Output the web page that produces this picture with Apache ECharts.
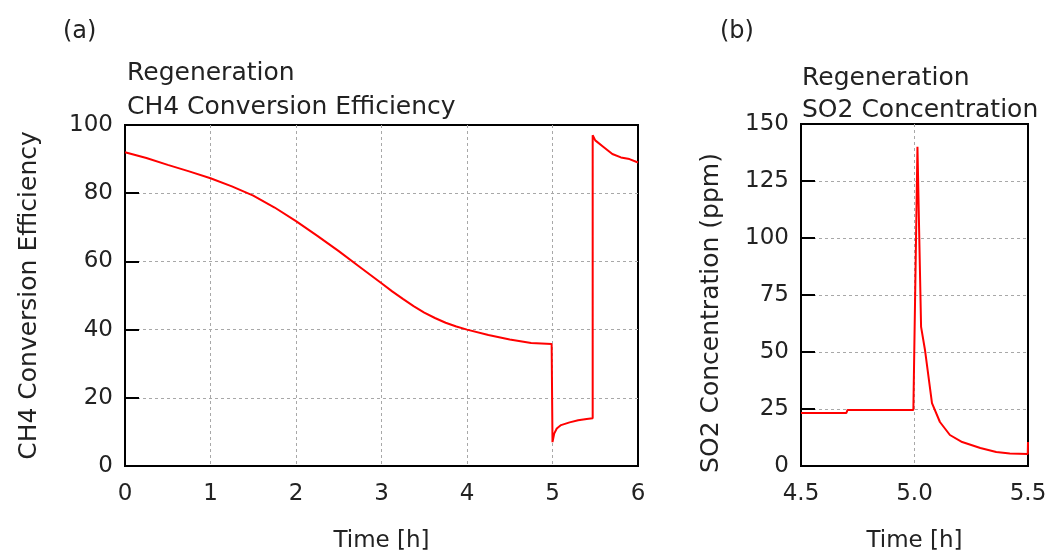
<!DOCTYPE html>
<html>
<head>
<meta charset="utf-8">
<script src="https://cdn.jsdelivr.net/npm/echarts@6/dist/echarts.min.js"></script>
<style>html,body{margin:0;padding:0;background:#fff}#c{width:1047px;height:552px}</style>
</head>
<body>
<div id="c"></div>
<script>
// Panel (a): CH4 conversion efficiency
const ch4Time = [0, 0.25, 0.5, 0.75, 1.0, 1.25, 1.5, 1.75, 2.0, 2.25, 2.5, 2.75, 3.0, 3.125, 3.25, 3.375, 3.5, 3.625, 3.75, 3.875, 4.0, 4.25, 4.5, 4.75, 4.99, 5.0, 5.02, 5.05, 5.1, 5.2, 5.3, 5.4, 5.47, 5.47, 5.5, 5.6, 5.7, 5.8, 5.9, 6.0];
const ch4Eff  = [92, 90.3, 88.3, 86.4, 84.4, 82, 79.3, 75.8, 71.8, 67.5, 63, 58.3, 53.6, 51.2, 49.0, 46.9, 45.0, 43.4, 42.0, 40.9, 40, 38.4, 37.1, 36.1, 35.8, 7, 9.5, 11, 12, 12.8, 13.4, 13.8, 14, 97, 95.5, 93.5, 91.5, 90.5, 90, 89];
// Panel (b): SO2 concentration
const so2Time = [4.5, 4.7, 4.705, 4.995, 5.013, 5.029, 5.046, 5.077, 5.112, 5.156, 5.21, 5.29, 5.36, 5.42, 5.499, 5.5];
const so2Conc = [23.3, 23.3, 24.6, 24.6, 140, 61, 51, 27.6, 19.3, 13.6, 10.5, 7.9, 6.1, 5.5, 5.3, 10.5];
const ch4XTicks = [0, 6, 1];
const ch4YTicks = [0, 100, 20];
const so2XTicks = [4.5, 5.5, 0.5];
const so2YTicks = [0, 150, 25];

const FONT = 'DejaVu Sans';
const TXT = '#222';
const pairs = (xs, ys) => xs.map((x, i) => [x, ys[i]]);

const splitLine = {show: true, showMinLine: false, showMaxLine: false, lineStyle: {color: '#a8a8a8', type: [3, 3], width: 1}};
const tickLabel = {fontFamily: FONT, fontSize: 23, color: TXT};

function xAxis(gi, t, fmt) {
  return {
    type: 'value', gridIndex: gi, min: t[0], max: t[1], interval: t[2],
    name: 'Time [h]', nameLocation: 'middle', nameGap: 64,
    nameTextStyle: {fontFamily: FONT, fontSize: 23, color: TXT},
    axisLine: {show: true, lineStyle: {color: '#000', width: 2}},
    axisTick: {show: false},
    axisLabel: Object.assign({margin: 17, formatter: fmt}, tickLabel),
    splitLine: splitLine
  };
}
function yAxis(gi, t, name, gap, pad) {
  return {
    type: 'value', gridIndex: gi, min: t[0], max: t[1], interval: t[2],
    name: name, nameLocation: 'middle', nameGap: gap,
    nameTextStyle: {fontFamily: FONT, fontSize: 25, color: TXT, padding: pad},
    axisLine: {show: true, lineStyle: {color: '#000', width: 2}},
    axisTick: {show: true, inside: true, length: 14, lineStyle: {color: '#000', width: 2}},
    axisLabel: Object.assign({margin: 12}, tickLabel),
    splitLine: splitLine
  };
}
const titleStyle = (lh) => ({fontFamily: FONT, fontSize: 25, fontWeight: 'normal', color: TXT, lineHeight: lh});

const chart = echarts.init(document.getElementById('c'), null, {renderer: 'canvas'});
chart.setOption({
  animation: false,
  backgroundColor: '#fff',
  title: [
    {text: '(a)', left: 63, top: 18, padding: 0, textStyle: {fontFamily: FONT, fontSize: 24, fontWeight: 'normal', color: TXT, lineHeight: 28}},
    {text: '(b)', left: 720, top: 18, padding: 0, textStyle: {fontFamily: FONT, fontSize: 24, fontWeight: 'normal', color: TXT, lineHeight: 28}},
    {text: 'Regeneration\nCH4 Conversion Efficiency', left: 127, top: 56, padding: 0, textStyle: titleStyle(34)},
    {text: 'Regeneration\nSO2 Concentration', left: 802, top: 62, padding: 0, textStyle: titleStyle(32)}
  ],
  grid: [
    {left: 125, right: 409, top: 125, bottom: 86, show: true, borderColor: '#000', borderWidth: 2, outerBoundsMode: 'none', containLabel: false},
    {left: 801, right: 19, top: 124, bottom: 86, show: true, borderColor: '#000', borderWidth: 2, outerBoundsMode: 'none', containLabel: false}
  ],
  xAxis: [
    xAxis(0, ch4XTicks, v => String(v)),
    xAxis(1, so2XTicks, v => v.toFixed(1))
  ],
  yAxis: [
    yAxis(0, ch4YTicks, 'CH4 Conversion Efficiency', 83, 0),
    yAxis(1, so2YTicks, 'SO2 Concentration (ppm)', 77, [0, 36, 0, 0])
  ],
  series: [
    {type: 'line', xAxisIndex: 0, yAxisIndex: 0, data: pairs(ch4Time, ch4Eff), showSymbol: false, smooth: false,
     lineStyle: {color: '#ff0000', width: 2}, clip: true},
    {type: 'line', xAxisIndex: 1, yAxisIndex: 1, data: pairs(so2Time, so2Conc), showSymbol: false, smooth: false,
     lineStyle: {color: '#ff0000', width: 2}, clip: true}
  ]
});
</script>
</body>
</html>
